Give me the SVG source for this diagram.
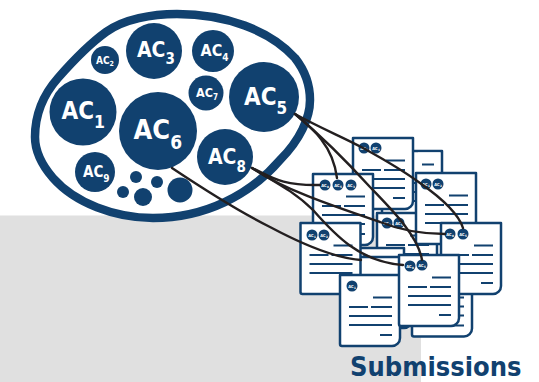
<svg xmlns="http://www.w3.org/2000/svg" width="539" height="382" viewBox="0 0 539 382">
<style>
text{font-family:"DejaVu Sans Condensed","DejaVu Sans",sans-serif;font-weight:700;fill:#fff}
.b{font-size:4.200px;text-anchor:middle}
.ac{fill:#11416f}
.sub{font-size:3px}
.page{fill:#fff;stroke:#11416f;stroke-width:2.500;stroke-linejoin:round}
.ln{stroke:#11416f;stroke-width:2;fill:none}
.conn{fill:none;stroke:#231f20;stroke-width:2.400;stroke-linecap:round}
</style>
<defs>
<g id="doc">
<path class="page" d="M0,0H60V63a8,8 0 0 1 -8,8H2a2,2 0 0 1 -2,-2Z"/>
<path class="ln" d="M33,22.500H52M9,32H28M31,32H52M9,41H52M9,50H52M40,60H52"/>
</g>
</defs>
<rect x="0" y="215.500" width="421" height="166.500" fill="#e0e0e0"/>
<g id="cluster">
<path d="M177,14C225,14 270,30 295,58C306,72 310,85 310,100C310,118 300,140 280,160C250,195 205,218 153,218C115,218 75,203 53,178C40,163 35,150 35,137C35,115 43,95 58,78C72,62 88,45 106,32C124,19 152,14 177,14Z" fill="#fff" stroke="#11416f" stroke-width="8.500"/>
<g id="ac1"><circle class="ac" cx="83" cy="112" r="33.500"/><text x="61.500" y="119" font-size="24">AC<tspan font-size="17.500" dy="9">1</tspan></text></g>
<g id="ac2"><circle class="ac" cx="105" cy="60" r="14"/><text x="96" y="63.500" font-size="10">AC<tspan font-size="7" dy="2.500">2</tspan></text></g>
<g id="ac3"><circle class="ac" cx="154" cy="51" r="28"/><text x="137" y="57" font-size="21">AC<tspan font-size="15" dy="7">3</tspan></text></g>
<g id="ac4"><circle class="ac" cx="213" cy="51" r="21"/><text x="200.500" y="56" font-size="16">AC<tspan font-size="10" dy="5">4</tspan></text></g>
<g id="ac5"><circle class="ac" cx="264" cy="97" r="35"/><text x="244" y="105" font-size="24">AC<tspan font-size="17" dy="9">5</tspan></text></g>
<g id="ac6"><circle class="ac" cx="158" cy="131" r="39"/><text x="133.500" y="139" font-size="27">AC<tspan font-size="19" dy="10">6</tspan></text></g>
<g id="ac7"><circle class="ac" cx="206" cy="93" r="17.500"/><text x="196" y="97.300" font-size="12.500">AC<tspan font-size="8" dy="3">7</tspan></text></g>
<g id="ac8"><circle class="ac" cx="225" cy="157" r="28"/><text x="208" y="164" font-size="21">AC<tspan font-size="15" dy="8">8</tspan></text></g>
<g id="ac9"><circle class="ac" cx="95" cy="172" r="20"/><text x="83" y="177" font-size="15">AC<tspan font-size="10" dy="5">9</tspan></text></g>
<g id="others" class="ac"><circle cx="136" cy="177" r="6"/><circle cx="157" cy="182" r="6"/><circle cx="123" cy="192" r="6"/><circle cx="143" cy="197" r="9"/><circle cx="180" cy="190" r="12.500"/></g>
</g>
<g id="docK"><use href="#doc" x="382" y="151"/><rect x="418" y="152.500" width="22" height="30" fill="#fff"/><path class="ln" d="M422,164.500H434"/></g>
<g id="docA"><use href="#doc" x="353" y="138"/><circle class="ac" cx="364" cy="148" r="5.500"/><text class="b" x="364" y="149.500">AC<tspan class="sub" dy="1">3</tspan></text><circle class="ac" cx="376" cy="148" r="5.500"/><text class="b" x="376" y="149.500">AC<tspan class="sub" dy="1">4</tspan></text></g>
<g id="docD"><use href="#doc" x="377" y="213"/><circle class="ac" cx="387" cy="223" r="5.500"/><text class="b" x="387" y="224.500">AC<tspan class="sub" dy="1">1</tspan></text><circle class="ac" cx="399" cy="223" r="5.500"/><text class="b" x="399" y="224.500">AC<tspan class="sub" dy="1">5</tspan></text></g>
<g id="docB"><use href="#doc" x="313" y="174"/><circle class="ac" cx="325" cy="185" r="5.500"/><text class="b" x="325" y="186.500">AC<tspan class="sub" dy="1">8</tspan></text><circle class="ac" cx="338" cy="185" r="5.500"/><text class="b" x="338" y="186.500">AC<tspan class="sub" dy="1">5</tspan></text><circle class="ac" cx="351" cy="185" r="5.500"/><text class="b" x="351" y="186.500">AC<tspan class="sub" dy="1">3</tspan></text></g>
<g id="docC"><use href="#doc" x="416" y="173"/><circle class="ac" cx="426" cy="184" r="5.500"/><text class="b" x="426" y="185.500">AC<tspan class="sub" dy="1">1</tspan></text><circle class="ac" cx="438" cy="184" r="5.500"/><text class="b" x="438" y="185.500">AC<tspan class="sub" dy="1">2</tspan></text></g>
<g id="docE"><use href="#doc" x="344" y="248"/><circle class="ac" cx="366" cy="260" r="5.500"/><text class="b" x="366" y="261.500">AC<tspan class="sub" dy="1">6</tspan></text></g>
<g id="docM"><use href="#doc" x="352" y="257"/></g>
<g id="docJ"><use href="#doc" x="412" y="265.500"/></g>
<g id="docF"><use href="#doc" x="300.500" y="223"/><circle class="ac" cx="312" cy="235" r="5.500"/><text class="b" x="312" y="236.500">AC<tspan class="sub" dy="1">1</tspan></text><circle class="ac" cx="324" cy="235" r="5.500"/><text class="b" x="324" y="236.500">AC<tspan class="sub" dy="1">2</tspan></text></g>
<g id="docG"><use href="#doc" x="441" y="223"/><circle class="ac" cx="450" cy="234" r="5.500"/><text class="b" x="450" y="235.500">AC<tspan class="sub" dy="1">8</tspan></text><circle class="ac" cx="463" cy="234" r="5.500"/><text class="b" x="463" y="235.500">AC<tspan class="sub" dy="1">5</tspan></text></g>
<g id="docH"><use href="#doc" x="340" y="275"/><circle class="ac" cx="352" cy="286" r="5.500"/><text class="b" x="352" y="287.500">AC<tspan class="sub" dy="1">1</tspan></text></g>
<g id="docI"><use href="#doc" x="399" y="255"/><circle class="ac" cx="410" cy="266" r="5.500"/><text class="b" x="410" y="267.500">AC<tspan class="sub" dy="1">8</tspan></text><circle class="ac" cx="422" cy="265" r="5.500"/><text class="b" x="422" y="266.500">AC<tspan class="sub" dy="1">5</tspan></text></g>
<g id="connectors">
<path class="conn" d="M295,114C320,128 345,138 363,148C385,160 405,172 420,183C440,197 458,212 463,228"/>
<path class="conn" d="M295,114C312,128 333,145 337,178"/>
<path class="conn" d="M295,114C320,135 350,165 370,187C390,208 418,235 422,260"/>
<path class="conn" d="M252,168C270,176 280,186 320,185"/>
<path class="conn" d="M252,168C285,190 330,205 380,222C400,230 420,234 445,234"/>
<path class="conn" d="M252,168C275,182 295,192 313,210C335,235 360,262 403,265"/>
<path class="conn" d="M172,168C205,190 240,212 270,227C300,243 335,258 361,260"/>
</g>
<text x="350" y="376" font-size="27" style="fill:#11416f" id="title">Submissions</text>
</svg>
